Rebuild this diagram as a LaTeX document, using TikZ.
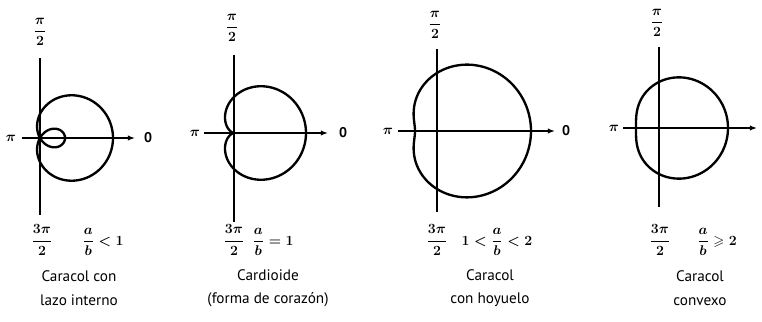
\documentclass[tikz,border=0pt]{standalone}
\usepackage{amsmath,amssymb}
\usepackage{fontspec}
\setmainfont{PT Sans}
\usetikzlibrary{arrows.meta}

\begin{document}
\begin{tikzpicture}[x=0.3mm,y=-0.3mm,
    eje/.style={line width=1.2pt},
    curva/.style={line width=2pt},
    lbl/.style={font=\large\boldmath, inner sep=1pt},
    nombre/.style={font=\fontsize{13}{15}\selectfont, align=center, inner sep=1pt}]
    \useasboundingbox (0,0) rectangle (762,322);
    % ejes polares y caracoles r = a + b cos(theta)
    \foreach \ox/\oy/\ra/\rb/\xl/\xr/\yt/\yb in {40/138/24/49/22/135/58/215,
                                                234/133/36/36/204/328/55/222,
                                                437/131/58/36/398/555/49/212,
                                                659/128/46/23/623/757/47/207} {
        \draw[eje] (\ox,\yt) -- (\ox,\yb);
        \draw[eje, -{Latex[length=6pt,width=4.5pt]}] (\xl,\oy) -- (\xr,\oy);
        \draw[curva, shift={(\ox,\oy)}] plot[domain=0:360, samples=181]
            ({(\ra+\rb*cos(\x))*cos(\x)}, {(\ra+\rb*cos(\x))*sin(\x)}) -- cycle;
    }
    % caracol con lazo interno
    \node[lbl] (pi1) at (11,138) {$\pi$};
    \node[lbl] (cero1) at (148,138) {\bfseries 0};
    \node[lbl] (med1) at (40,32) {$\dfrac{\pi}{2}$};
    \node[lbl] (tres1) at (42,240) {$\dfrac{3\pi}{2}$};
    \node[lbl] (raz1) at (103,242) {$\dfrac{a}{b} < 1$};
    \node[nombre] (nom1) at (79,288) {Caracol con\\[5pt]lazo interno};
    % cardioide
    \node[lbl] (pi2) at (195,133) {$\pi$};
    \node[lbl] (cero2) at (343,133) {\bfseries 0};
    \node[lbl] (med2) at (232,28) {$\dfrac{\pi}{2}$};
    \node[lbl] (tres2) at (234,240) {$\dfrac{3\pi}{2}$};
    \node[lbl] (raz2) at (273,242) {$\dfrac{a}{b} = 1$};
    \node[nombre] (nom2) at (268,288) {Cardioide\\[5pt](forma de corazón)};
    % caracol con hoyuelo
    \node[lbl] (pi3) at (388,131) {$\pi$};
    \node[lbl] (cero3) at (566,131) {\bfseries 0};
    \node[lbl] (med3) at (435,25) {$\dfrac{\pi}{2}$};
    \node[lbl] (tres3) at (437,240) {$\dfrac{3\pi}{2}$};
    \node[lbl] (raz3) at (497,242) {$1 < \dfrac{a}{b} < 2$};
    \node[nombre] (nom3) at (490,288) {Caracol\\[5pt]con hoyuelo};
    % caracol convexo
    \node[lbl] (pi4) at (614,128) {$\pi$};
    \node[lbl] (med4) at (657,23) {$\dfrac{\pi}{2}$};
    \node[lbl] (tres4) at (660,240) {$\dfrac{3\pi}{2}$};
    \node[lbl] (raz4) at (717,242) {$\dfrac{a}{b} \geqslant 2$};
    \node[nombre] (nom4) at (700,288) {Caracol\\[5pt]convexo};
\end{tikzpicture}
\end{document}
